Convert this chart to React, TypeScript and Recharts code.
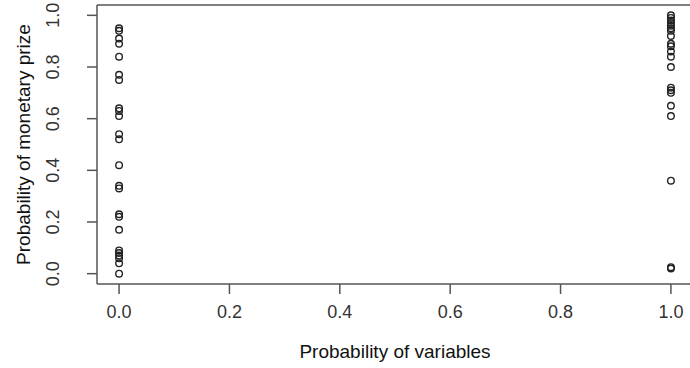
import { ScatterChart, Scatter, XAxis, YAxis, ReferenceLine } from 'recharts'

const X_TICKS = [0, 0.2, 0.4, 0.6, 0.8, 1]
const Y_TICKS = [0, 0.2, 0.4, 0.6, 0.8, 1]

// prize probabilities for the two variable-probability groups
const GROUP_ZERO = [
  0.95, 0.94, 0.91, 0.89, 0.84, 0.77, 0.75, 0.64, 0.63, 0.61, 0.54, 0.52,
  0.42, 0.34, 0.33, 0.23, 0.22, 0.17, 0.09, 0.08, 0.07, 0.06, 0.04, 0.0,
]
const GROUP_ONE = [
  1.0, 0.99, 0.98, 0.97, 0.96, 0.95, 0.94, 0.92, 0.89, 0.88, 0.86, 0.84,
  0.8, 0.72, 0.71, 0.7, 0.65, 0.61, 0.36, 0.025, 0.02,
]

const FONT = '"Liberation Sans", Arial, sans-serif'
const TEXT = '#333'
const LINE = '#555'

const points = [
  ...GROUP_ZERO.map((y) => ({ x: 0, y })),
  ...GROUP_ONE.map((y) => ({ x: 1, y })),
]

const OpenCircle = (props: any) => {
  const { cx, cy } = props
  if (cx == null || cy == null) return null
  return <circle cx={cx} cy={cy} r={3.3} fill="none" stroke="#222" strokeWidth={1.4} />
}

const YTick = (props: any) => {
  const { x, y, payload } = props
  return (
    <text
      x={x}
      y={y}
      transform={`rotate(-90, ${x}, ${y})`}
      textAnchor="middle"
      fill={TEXT}
      fontSize={18}
      fontFamily={FONT}
    >
      {payload.value.toFixed(1)}
    </text>
  )
}

const XTitle = (props: any) => {
  const { x, width } = props.viewBox
  return (
    <text x={x + width / 2} y={358} textAnchor="middle" fill="#111" fontSize={19} fontFamily={FONT}>
      Probability of variables
    </text>
  )
}

const YTitle = (props: any) => {
  const { y, height } = props.viewBox
  const cx = 30
  const cy = y + height / 2
  return (
    <text x={cx} y={cy} transform={`rotate(-90, ${cx}, ${cy})`} textAnchor="middle" fill="#111" fontSize={19} fontFamily={FONT}>
      Probability of monetary prize
    </text>
  )
}

export default function App() {
  return (
    <div style={{ position: 'absolute', left: 0, top: 0, width: 690, height: 368, overflow: 'hidden', background: '#fff' }}>
      <ScatterChart width={720} height={368} margin={{ top: 5, right: 27, bottom: 0, left: 0 }}>
        <XAxis
          type="number"
          dataKey="x"
          domain={[-0.04, 1.04]}
          ticks={X_TICKS}
          tickFormatter={(v: number) => v.toFixed(1)}
          axisLine={{ stroke: LINE, strokeWidth: 1.5 }}
          tickLine={{ stroke: LINE, strokeWidth: 1.5 }}
          tickSize={10}
          tickMargin={11}
          tick={{ fill: TEXT, fontSize: 18, fontFamily: FONT }}
          label={{ content: <XTitle /> }}
          height={84}
        />
        <YAxis
          type="number"
          dataKey="y"
          domain={[-0.04, 1.04]}
          ticks={Y_TICKS}
          axisLine={{ stroke: LINE, strokeWidth: 1.5 }}
          tickLine={{ stroke: LINE, strokeWidth: 1.5 }}
          tickSize={10}
          tickMargin={28}
          tick={<YTick />}
          width={97}
          label={{ content: <YTitle /> }}
        />
        <ReferenceLine y={1.04} stroke={LINE} strokeWidth={1.5} />
        <Scatter data={points} shape={<OpenCircle />} isAnimationActive={false} />
      </ScatterChart>
    </div>
  )
}
